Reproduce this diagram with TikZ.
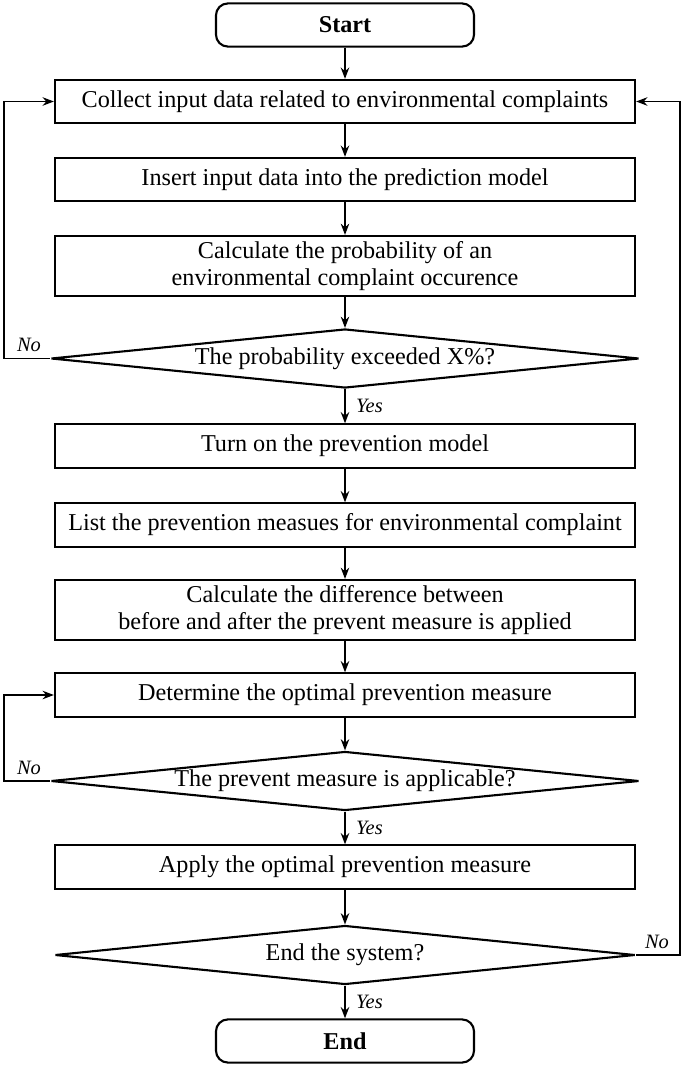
\documentclass[tikz,border=0pt]{standalone}
\usepackage{fontspec}
\setmainfont{Liberation Serif}
\usepackage{tikz}
\usetikzlibrary{arrows.meta,positioning,shapes.geometric}

\newcommand{\mainsize}{\fontsize{17.2}{19.5}\selectfont}
\newcommand{\labelsize}{\fontsize{14.5}{16}\selectfont}

\begin{document}
\begin{tikzpicture}[
      x=0.025cm, y=-0.025cm,
      mybox/.style={
         rectangle,
         draw=black,
         line width=1.5pt,
         inner sep=2pt,
         minimum width=14.5cm,
         minimum height=1.08cm,
         align=center,
         font=\mainsize},
      myterm/.style={
         mybox,
         rounded corners=0.3cm,
         minimum width=6.45cm,
         font=\mainsize\bfseries},
      mydiamond/.style={
         diamond,
         aspect=10,
         draw=black,
         line width=1.5pt,
         inner sep=0pt,
         minimum width=14.7cm,
         minimum height=1.475cm,
         font=\mainsize},
      mytext/.style={
         font=\labelsize\itshape},
      myarrow/.style={-{Stealth[length=8pt,width=6pt]}, line width=1.3pt}
      ]
      \useasboundingbox (0,0) rectangle (682,1066);
      \node[myterm] (start) at (345,25) {Start};
      \node[mybox] (collect) at (345,101.5) {Collect input data related to environmental complaints};
      \node[mybox] (insert) at (345,179.5) {Insert input data into the prediction model};
      \node[mybox, minimum height=1.5cm] (calcprob) at (345,266) {Calculate the probability of an\\environmental complaint occurence};
      \node[mydiamond] (exceed) at (345,358.5) {The probability exceeded X\%?};
      \node[mybox] (turnon) at (345,446) {Turn on the prevention model};
      \node[mybox] (list) at (345,525) {List the prevention measues for environmental complaint};
      \node[mybox, minimum height=1.5cm] (calcdiff) at (345,610) {Calculate the difference between\\before and after the prevent measure is applied};
      \node[mybox] (determine) at (345,695) {Determine the optimal prevention measure};
      \node[mydiamond] (applicable) at (345,781) {The prevent measure is applicable?};
      \node[mybox] (apply) at (345,867) {Apply the optimal prevention measure};
      \node[mydiamond, minimum width=14.5cm] (endsys) at (345,955) {End the system?};
      \node[myterm] (end) at (345,1041) {End};
      % corners of the loops
      \coordinate (left1) at (4,358.5);
      \coordinate (left2) at (4,781);
      \coordinate (right1) at (680,955);
      \node[mytext] (no1) at (29,345) {No};
      \node[mytext] (no2) at (29,768) {No};
      \node[mytext] (no3) at (657,942) {No};
    \foreach \i/\j in {start/collect, collect/insert, insert/calcprob,
      calcprob/exceed, turnon/list, list/calcdiff, calcdiff/determine,
      determine/applicable, apply/endsys}
       \draw [myarrow] (\i) -- (\j);
    \foreach \i/\j in {exceed/turnon, applicable/apply, endsys/end}
       \draw [myarrow] (\i) -- node[mytext,right=4pt] {Yes} (\j);
      \draw [myarrow] (exceed.west) -- (left1) |- (collect.west);
      \draw [myarrow] (applicable.west) -- (left2) |- (determine.west);
      \draw [myarrow] (endsys.east) -- (right1) |- (collect.east);
\end{tikzpicture}
\end{document}
